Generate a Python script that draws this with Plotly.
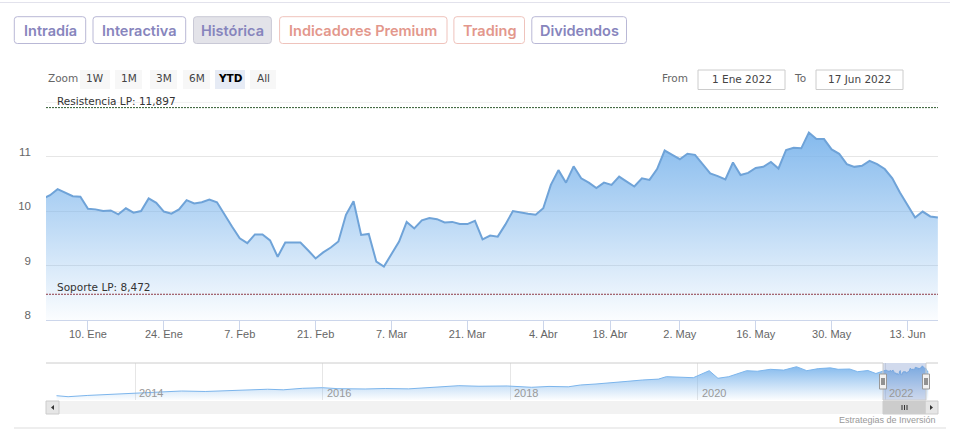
import numpy as np
import pandas as pd
import plotly.graph_objects as go

W, H = 960, 441

# ---------------- data ----------------
holidays = ["2022-04-15", "2022-04-18"]
trade_dates = [d for d in pd.bdate_range("2022-01-03", "2022-06-17") if d.strftime("%Y-%m-%d") not in holidays]
prev_date = "2021-12-31"
prev_close = 10.22
close_2022 = [
    10.29, 10.40, 10.34, 10.27, 10.26, 10.04, 10.03, 10.00, 10.01, 9.94,
    10.05, 9.97, 10.00, 10.23, 10.15, 9.99, 9.95, 10.03, 10.20, 10.14,
    10.16, 10.21, 10.16, 9.93, 9.71, 9.50, 9.41, 9.57, 9.57, 9.46,
    9.16, 9.42, 9.42, 9.42, 9.28, 9.13, 9.24, 9.33, 9.44, 9.93,
    10.18, 9.56, 9.58, 9.07, 8.98, 9.21, 9.44, 9.80, 9.68, 9.83,
    9.87, 9.85, 9.79, 9.80, 9.76, 9.76, 9.82, 9.48, 9.55, 9.53,
    9.75, 10.00, 9.97, 9.95, 9.93, 10.05, 10.48, 10.75, 10.52, 10.82,
    10.60, 10.52, 10.42, 10.52, 10.48, 10.63, 10.54, 10.45, 10.60, 10.57,
    10.77, 11.11, 11.03, 10.95, 11.05, 11.03, 10.86, 10.69, 10.64, 10.58,
    10.89, 10.66, 10.70, 10.79, 10.81, 10.90, 10.78, 11.12, 11.16, 11.15,
    11.44, 11.32, 11.32, 11.13, 11.05, 10.86, 10.81, 10.83, 10.92, 10.86,
    10.77, 10.60, 10.34, 10.11, 9.88, 9.99, 9.90, 9.88,
]
tick_dates = ["2022-01-10", "2022-01-24", "2022-02-07", "2022-02-21", "2022-03-07", "2022-03-21",
              "2022-04-04", "2022-04-18", "2022-05-02", "2022-05-16", "2022-05-30", "2022-06-13"]
tick_labels = ["10. Ene", "24. Ene", "7. Feb", "21. Feb", "7. Mar", "21. Mar",
               "4. Abr", "18. Abr", "2. May", "16. May", "30. May", "13. Jun"]

resistance = 11.897
support = 8.472

nav_dates = ["2013-03-01", "2013-04-15", "2013-07-01", "2013-10-01", "2014-01-01", "2014-04-01",
             "2014-07-01", "2014-10-01", "2015-01-01", "2015-03-01", "2015-06-01", "2015-08-01",
             "2015-10-15", "2016-01-01", "2016-03-01", "2016-06-15", "2016-09-01", "2016-12-01",
             "2017-02-15", "2017-04-01", "2017-06-15", "2017-09-01", "2017-12-20", "2018-03-25",
             "2018-06-01", "2018-08-15", "2018-10-01", "2018-12-01", "2019-02-01", "2019-04-01",
             "2019-06-01", "2019-08-01", "2019-09-01", "2019-11-01", "2019-12-15", "2020-02-15",
             "2020-03-20", "2020-05-01", "2020-07-10", "2020-08-20", "2020-10-10", "2020-12-01",
             "2021-01-20", "2021-03-01", "2021-04-15", "2021-06-01", "2021-07-01", "2021-08-15",
             "2021-09-15", "2021-10-25", "2021-11-25"]
nav_values = [3.48, 3.21, 3.55, 3.85, 4.28, 4.45,
              4.73, 4.60, 4.85, 5.00, 5.20, 5.05,
              5.45, 5.61, 5.35, 5.27, 5.40, 5.30,
              5.61, 5.90, 6.15, 6.00, 6.07, 5.72,
              5.95, 5.85, 6.33, 6.60, 7.05, 7.30,
              7.67, 7.90, 8.55, 8.30, 8.28, 10.15,
              8.12, 8.55, 10.15, 10.00, 10.52, 10.30,
              11.21, 10.15, 10.70, 10.90, 10.52, 10.60,
              9.88, 10.20, 9.40]

top_buttons = ["Intradía", "Interactiva", "Histórica", "Indicadores Premium", "Trading", "Dividendos"]
range_buttons = ["1W", "1M", "3M", "6M", "YTD", "All"]

# ---------------- helpers ----------------
def px(x):
    return x / W

def py(y):
    return 1 - y / H

def rrect(x0, y0, x1, y1, r):
    X0, X1, Y0, Y1 = px(x0), px(x1), py(y0), py(y1)
    rx, ry = r / W, r / H
    return (f"M {X0+rx},{Y0} L {X1-rx},{Y0} Q {X1},{Y0} {X1},{Y0-ry} "
            f"L {X1},{Y1+ry} Q {X1},{Y1} {X1-rx},{Y1} L {X0+rx},{Y1} "
            f"Q {X0},{Y1} {X0},{Y1+ry} L {X0},{Y0-ry} Q {X0},{Y0} {X0+rx},{Y0} Z")

def es_num(v):
    return f"{v:.3f}".replace(".", ",")

SANS = "Liberation Sans, Arial, sans-serif"
DJ = "DejaVu Sans, sans-serif"

# ordinal positions (trading-day index)
all_dates = [pd.Timestamp(prev_date)] + list(trade_dates)
all_vals = [prev_close] + close_2022
xs = np.arange(len(all_dates)) - 1
ord_days = np.array([d.toordinal() for d in all_dates])
tick_pos = np.interp([pd.Timestamp(t).toordinal() for t in tick_dates], ord_days, xs)

fig = go.Figure()

fig.add_trace(go.Scatter(
    x=xs, y=all_vals, mode="lines",
    line=dict(color="#6fa3d8", width=2),
    fill="tozeroy",
    fillgradient=dict(type="vertical",
                      colorscale=[[0, "rgba(124,181,236,0.03)"], [0.5, "rgba(124,181,236,0.5)"],
                                  [1, "rgba(124,181,236,0.95)"]],
                      start=8, stop=11.5),
    hoverinfo="skip", xaxis="x", yaxis="y"))

nav_x = nav_dates + [prev_date] + [d.strftime("%Y-%m-%d") for d in trade_dates]
nav_y = nav_values + [prev_close] + close_2022
fig.add_trace(go.Scatter(
    x=nav_x, y=nav_y, mode="lines",
    line=dict(color="#7cb5ec", width=1),
    fill="tozeroy",
    fillgradient=dict(type="vertical",
                      colorscale=[[0, "rgba(124,181,236,0.03)"], [1, "rgba(124,181,236,0.95)"]],
                      start=2.4, stop=11.5),
    hoverinfo="skip", xaxis="x2", yaxis="y2"))

shapes = []
annotations = []

# top separator lines
shapes.append(dict(type="line", xref="paper", yref="paper", x0=px(0), x1=px(950), y0=py(2.5), y1=py(2.5),
                   line=dict(color="#e2e2ec", width=1)))
shapes.append(dict(type="line", xref="paper", yref="paper", x0=px(14), x1=px(946), y0=py(428), y1=py(428),
                   line=dict(color="#dddddd", width=1)))

# top buttons
btn_box = [(14.3, 85.7), (93, 185.7), (193.5, 271.4), (279.6, 447), (453.9, 524.5), (531.8, 626.5)]
btn_style = [
    ("#ffffff", "#b9b8d6", "#8785bd"),
    ("#ffffff", "#b9b8d6", "#8785bd"),
    ("#e3e3e9", "#c9c9d6", "#8785bd"),
    ("#ffffff", "#efc3bc", "#e3978c"),
    ("#ffffff", "#efc3bc", "#e3978c"),
    ("#ffffff", "#b9b8d6", "#8785bd"),
]
for (x0, x1), label, (bg, bd, tc) in zip(btn_box, top_buttons, btn_style):
    shapes.append(dict(type="path", xref="paper", yref="paper", path=rrect(x0, 16.7, x1, 43.5, 3),
                       fillcolor=bg, line=dict(color=bd, width=1)))
    annotations.append(dict(x=px((x0 + x1) / 2), y=py(30.5), xref="paper", yref="paper", text=label,
                            showarrow=False, xanchor="center", yanchor="middle",
                            font=dict(family="Inter, Open Sans, sans-serif", size=14.5, color=tc, weight=600)))

# zoom range selector
annotations.append(dict(x=px(46), y=py(78.5), xref="paper", yref="paper", text="Zoom", showarrow=False,
                        xanchor="left", yanchor="middle", font=dict(family=DJ, size=10.5, color="#666666")))
rb_box = [(80, 110), (115, 142), (150, 177), (183, 210), (215, 245), (250, 276)]
for (x0, x1), label in zip(rb_box, range_buttons):
    sel = label == "YTD"
    shapes.append(dict(type="rect", xref="paper", yref="paper", x0=px(x0), x1=px(x1), y0=py(70), y1=py(89),
                       fillcolor="#e6ebf5" if sel else "#f7f7f7", line=dict(width=0)))
    annotations.append(dict(x=px((x0 + x1) / 2), y=py(78.5), xref="paper", yref="paper", text=label,
                            showarrow=False, xanchor="center", yanchor="middle",
                            font=dict(family=DJ, size=10.5, color="#000000" if sel else "#444444",
                                      weight=700 if sel else 400)))

# date inputs
annotations.append(dict(x=px(690), y=py(78.5), xref="paper", yref="paper", text="From", showarrow=False,
                        xanchor="right", yanchor="middle", font=dict(family=DJ, size=10.5, color="#666666")))
annotations.append(dict(x=px(808), y=py(78.5), xref="paper", yref="paper", text="To", showarrow=False,
                        xanchor="right", yanchor="middle", font=dict(family=DJ, size=10.5, color="#666666")))
for (x0, x1), label in zip([(698, 785), (816, 903)], ["1 Ene 2022", "17 Jun 2022"]):
    shapes.append(dict(type="rect", xref="paper", yref="paper", x0=px(x0), x1=px(x1), y0=py(70), y1=py(89.5),
                       fillcolor="#ffffff", line=dict(color="#cccccc", width=1)))
    annotations.append(dict(x=px((x0 + x1) / 2), y=py(79), xref="paper", yref="paper", text=label,
                            showarrow=False, xanchor="center", yanchor="middle",
                            font=dict(family=DJ, size=10.5, color="#444444")))

# gridline at 12
shapes.append(dict(type="line", xref="x domain", yref="y", x0=0, x1=1, y0=12, y1=12,
                   line=dict(color="#e6e6e6", width=1), layer="below"))

# resistance / support
shapes.append(dict(type="line", xref="x domain", yref="y", x0=0, x1=1, y0=resistance, y1=resistance,
                   line=dict(color="#2f5a2f", width=1, dash="2px,1px")))
shapes.append(dict(type="line", xref="x domain", yref="y", x0=0, x1=1, y0=support, y1=support,
                   line=dict(color="#8e3b47", width=1, dash="2px,1px")))
annotations.append(dict(x=px(55), y=resistance, xref="paper", yref="y", text=f"Resistencia LP: {es_num(resistance)}",
                        showarrow=False, xanchor="left", yanchor="bottom", yshift=-1,
                        font=dict(family=DJ, size=10.5, color="#333333")))
annotations.append(dict(x=px(55), y=support, xref="paper", yref="y", text=f"Soporte LP: {es_num(support)}",
                        showarrow=False, xanchor="left", yanchor="bottom", yshift=-1,
                        font=dict(family=DJ, size=10.5, color="#333333")))

# navigator outline, mask, handles
nav_top, nav_bot = 363, 400
sel0, sel1 = 883, 926
shapes.append(dict(type="rect", xref="paper", yref="paper", x0=px(sel0), x1=px(sel1), y0=py(nav_bot), y1=py(nav_top),
                   fillcolor="rgba(102,133,194,0.3)", line=dict(width=0)))
shapes.append(dict(type="path", xref="paper", yref="paper",
                   path=(f"M {px(46)},{py(nav_top)} L {px(sel0)},{py(nav_top)} L {px(sel0)},{py(nav_bot)} "
                         f"L {px(sel1)},{py(nav_bot)} L {px(sel1)},{py(nav_top)} L {px(938)},{py(nav_top)}"),
                   line=dict(color="#cccccc", width=1)))
for hx in (sel0, sel1):
    shapes.append(dict(type="rect", xref="paper", yref="paper", x0=px(hx - 3.5), x1=px(hx + 3.5),
                       y0=py(389), y1=py(374), fillcolor="#f2f2f2", line=dict(color="#999999", width=1)))
    for dx in (-1, 1):
        shapes.append(dict(type="line", xref="paper", yref="paper", x0=px(hx + dx), x1=px(hx + dx),
                           y0=py(378), y1=py(385), line=dict(color="#333333", width=1)))

# scrollbar
sb0, sb1 = 401, 414
shapes.append(dict(type="rect", xref="paper", yref="paper", x0=px(46), x1=px(938), y0=py(sb1), y1=py(sb0),
                   fillcolor="#f2f2f2", line=dict(width=0)))
for bx0, bx1 in ((46, 59), (925, 938)):
    shapes.append(dict(type="rect", xref="paper", yref="paper", x0=px(bx0), x1=px(bx1), y0=py(sb1), y1=py(sb0),
                       fillcolor="#e6e6e6", line=dict(color="#cccccc", width=1)))
shapes.append(dict(type="path", xref="paper", yref="paper",
                   path=f"M {px(51)},{py(407.5)} L {px(54)},{py(405)} L {px(54)},{py(410)} Z",
                   fillcolor="#333333", line=dict(width=0)))
shapes.append(dict(type="path", xref="paper", yref="paper",
                   path=f"M {px(933)},{py(407.5)} L {px(930)},{py(405)} L {px(930)},{py(410)} Z",
                   fillcolor="#333333", line=dict(width=0)))
shapes.append(dict(type="rect", xref="paper", yref="paper", x0=px(sel0), x1=px(925), y0=py(sb1), y1=py(sb0),
                   fillcolor="#cccccc", line=dict(color="#cccccc", width=1)))
for rx in (902, 904.5, 907):
    shapes.append(dict(type="line", xref="paper", yref="paper", x0=px(rx), x1=px(rx), y0=py(405), y1=py(410),
                       line=dict(color="#333333", width=1)))

# navigator year labels
for yr in range(2014, 2023, 2):
    annotations.append(dict(x=f"{yr}-01-01", y=py(393), xref="x2", yref="paper", text=str(yr), showarrow=False,
                            xanchor="left", yanchor="middle", xshift=2,
                            font=dict(family=SANS, size=11, color="#999999")))

# credit
annotations.append(dict(x=px(938), y=py(420), xref="paper", yref="paper", text="Estrategias de Inversión",
                        showarrow=False, xanchor="right", yanchor="middle",
                        font=dict(family=SANS, size=9, color="#999999")))

fig.update_layout(
    width=W, height=H, margin=dict(l=0, r=0, t=0, b=0),
    paper_bgcolor="#ffffff", plot_bgcolor="#ffffff", showlegend=False,
    shapes=shapes, annotations=annotations,
    xaxis=dict(domain=[px(46), px(938)], range=[-0.53, len(close_2022) - 1 + 0.02], anchor="y",
               tickvals=list(tick_pos), ticktext=tick_labels, ticks="outside", ticklen=10,
               tickcolor="#ccd6eb", showline=True, linecolor="#ccd6eb", showgrid=False, zeroline=False,
               ticklabelstandoff=-6,
               tickfont=dict(family=SANS, size=11, color="#666666"), fixedrange=True),
    yaxis=dict(domain=[py(320), py(102)], range=[8, 12], anchor="x",
               tickvals=[8, 9, 10, 11], ticktext=["8", "9", "10", "11"], showgrid=True, gridcolor="#e6e6e6",
               zeroline=False, showline=False, ticks="", ticklabelstandoff=14, ticklabelshift=-5,
               tickfont=dict(family=SANS, size=11.5, color="#666666"), fixedrange=True),
    xaxis2=dict(domain=[px(46), px(938)], type="date", range=["2013-01-19", "2022-07-25"], anchor="y2",
                showgrid=True, gridcolor="#e6e6e6", tick0="2014-01-01", dtick="M24", showticklabels=False,
                ticks="", zeroline=False, showline=False, fixedrange=True),
    yaxis2=dict(domain=[py(nav_bot), py(nav_top)], range=[2.33, 12.2], anchor="x2",
                showgrid=False, showticklabels=False, zeroline=False, showline=False, fixedrange=True),
)

fig.write_html("out.html", config={"displayModeBar": False})
